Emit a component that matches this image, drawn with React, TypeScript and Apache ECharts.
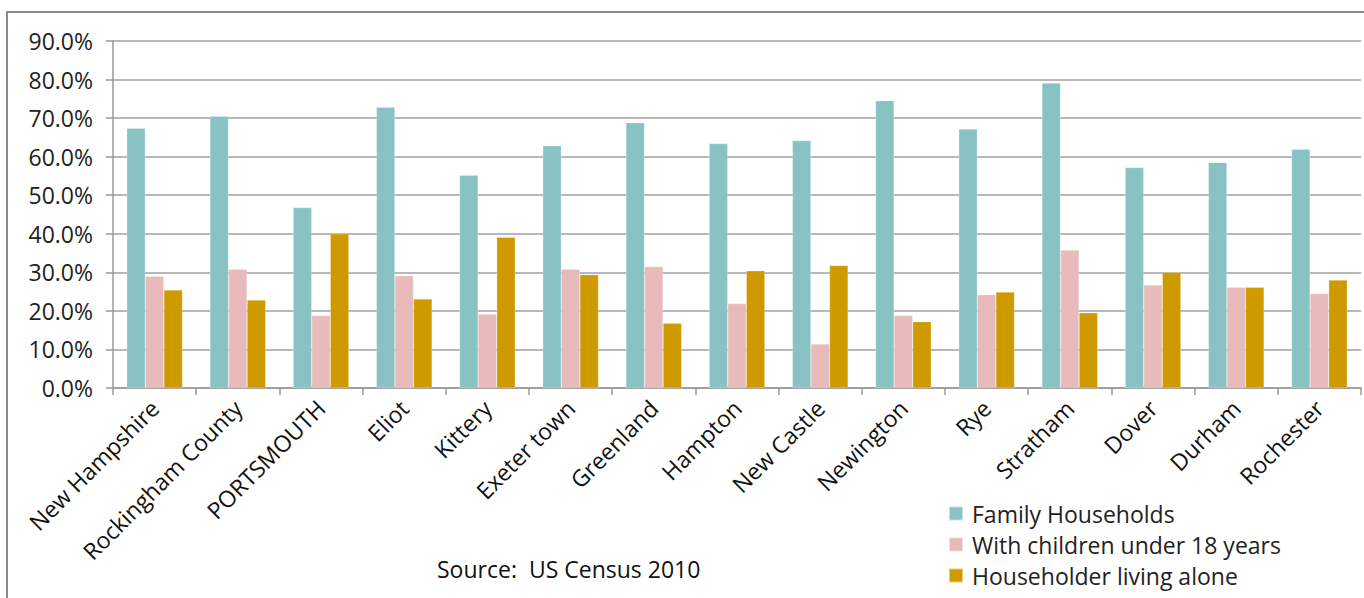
import React, { useEffect, useRef } from "react";
import * as echarts from "echarts";

const categories = [
  "New Hampshire", "Rockingham County", "PORTSMOUTH", "Eliot", "Kittery",
  "Exeter town", "Greenland", "Hampton", "New Castle", "Newington",
  "Rye", "Stratham", "Dover", "Durham", "Rochester",
];
const familyHouseholds = [67.4, 70.5, 46.8, 72.8, 55.2, 62.8, 68.8, 63.4, 64.2, 74.5, 67.2, 79.1, 57.2, 58.5, 61.9];
const withChildren = [29.0, 30.8, 18.8, 29.1, 19.2, 30.8, 31.5, 21.9, 11.4, 18.8, 24.2, 35.8, 26.7, 26.1, 24.5];
const livingAlone = [25.4, 22.8, 40.0, 23.1, 39.1, 29.4, 16.8, 30.4, 31.8, 17.2, 24.9, 19.5, 30.0, 26.1, 28.0];
const seriesNames = ["Family Households", "With children under 18 years", "Householder living alone"];
const colors = ["#88C2C2", "#E8BABA", "#CF9900"];
const sourceText = "Source:  US Census 2010";

const FONT = "'Open Sans', Lato, sans-serif";
const FS = 23;

export default function App() {
  const ref = useRef<HTMLDivElement>(null);
  useEffect(() => {
    if (!ref.current) return;
    const chart = echarts.init(ref.current, undefined, { renderer: "svg" });
    const mk = (name: string, data: number[], color: string) => ({
      name,
      type: "bar",
      data,
      barGap: "0%",
      barCategoryGap: "33%",
      itemStyle: { color, borderColor: "rgba(255,255,255,0.5)", borderWidth: 0.5 },
    });
    chart.setOption({
      animation: false,
      backgroundColor: "#ffffff",
      textStyle: { fontFamily: FONT },
      grid: { left: 113, right: 3, top: 41, bottom: 210, containLabel: false },
      legend: {
        orient: "vertical",
        left: 943,
        top: 497,
        itemWidth: 14,
        itemHeight: 14,
        itemGap: 8,
        icon: "rect",
        textStyle: { fontFamily: FONT, fontSize: FS, color: "#222", padding: [0, 0, 0, 4] },
        data: seriesNames,
      },
      xAxis: {
        type: "category",
        data: categories,
        axisLine: { lineStyle: { color: "#999", width: 1.5 } },
        axisTick: { show: true, length: 7, lineStyle: { color: "#999", width: 1.5 } },
        axisLabel: {
          interval: 0,
          rotate: 45,
          fontSize: FS,
          color: "#111",
          fontFamily: FONT,
          margin: 16,
        },
      },
      yAxis: {
        type: "value",
        min: 0,
        max: 90,
        interval: 10,
        axisLine: { show: true, lineStyle: { color: "#999", width: 1.5 } },
        axisTick: { show: true, length: 7, lineStyle: { color: "#999", width: 1.5 } },
        splitLine: { lineStyle: { color: "#A0A0A0", width: 1.5 } },
        axisLabel: {
          formatter: (v: number) => v.toFixed(1) + "%",
          fontSize: FS,
          color: "#222",
          fontFamily: FONT,
          margin: 20,
        },
      },
      graphic: [
        { type: "line", shape: { x1: 7, y1: 12, x2: 7, y2: 598 }, style: { stroke: "#8a8a8a", lineWidth: 2 } },
        { type: "line", shape: { x1: 6, y1: 12, x2: 1364, y2: 12 }, style: { stroke: "#8a8a8a", lineWidth: 2 } },
        {
          type: "text",
          left: 437,
          top: 557,
          style: { text: sourceText, fontSize: FS, fontFamily: FONT, fill: "#111" },
        },
      ],
      series: [
        mk(seriesNames[0], familyHouseholds, colors[0]),
        mk(seriesNames[1], withChildren, colors[1]),
        mk(seriesNames[2], livingAlone, colors[2]),
      ],
    });
    return () => chart.dispose();
  }, []);
  return (
    <div
      ref={ref}
      style={{ position: "fixed", left: 0, top: 0, width: 1364, height: 598 }}
    />
  );
}
